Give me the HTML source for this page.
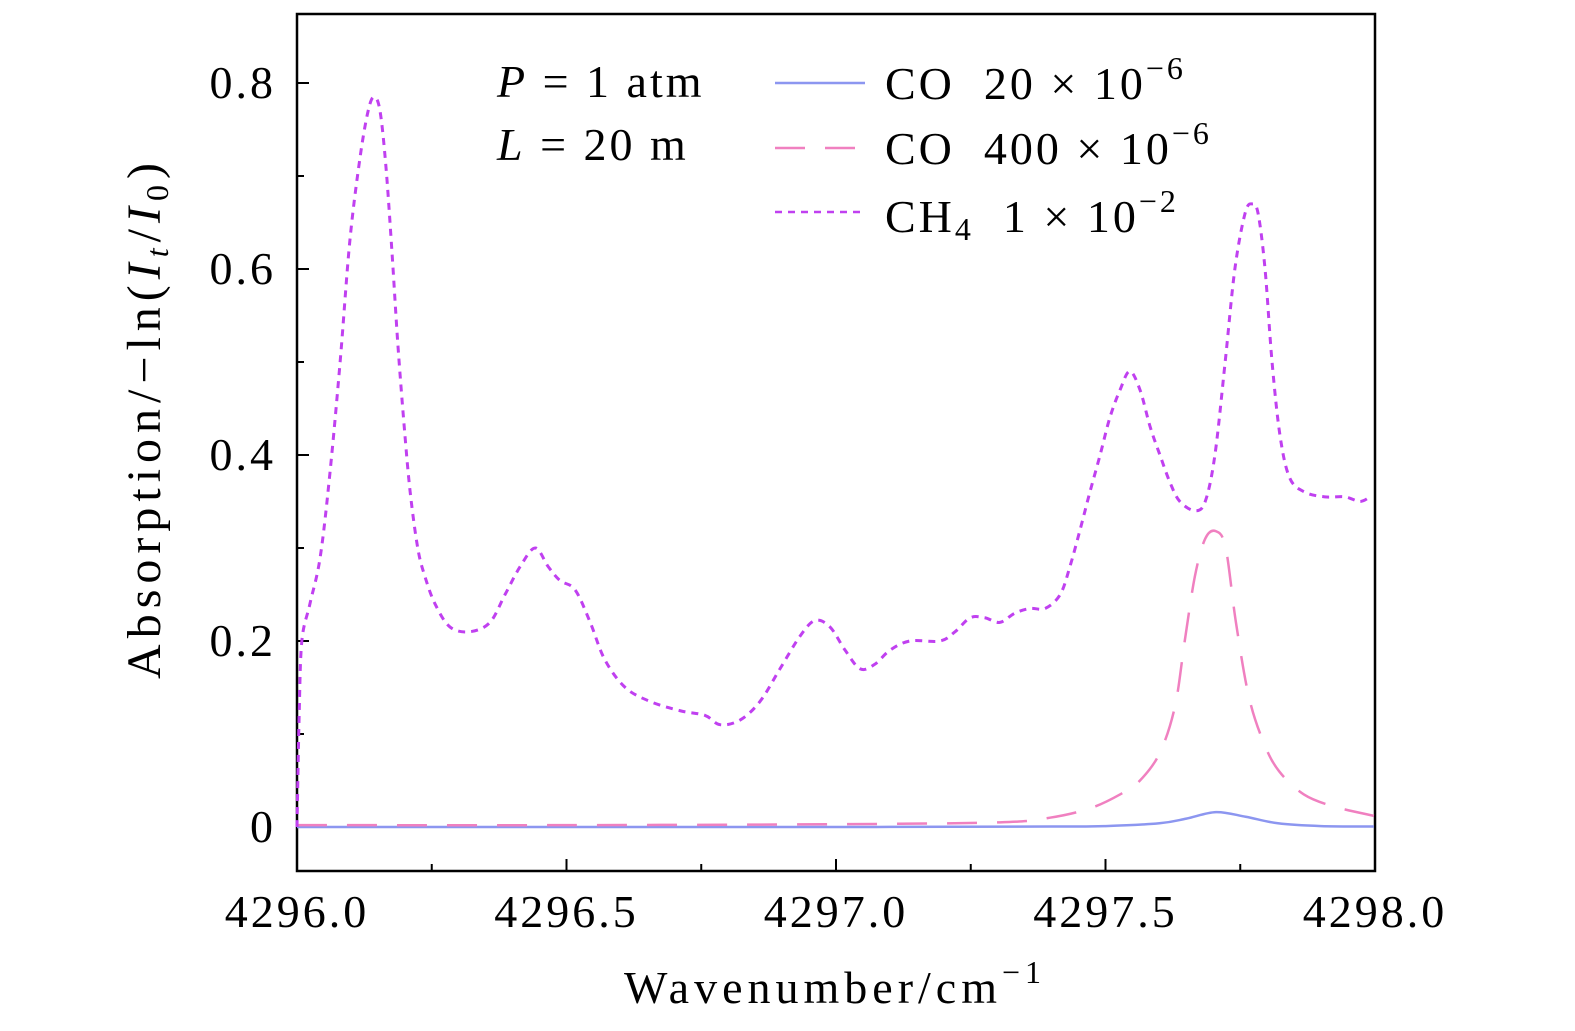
<!DOCTYPE html>
<html><head><meta charset="utf-8"><style>
html,body{margin:0;padding:0;background:#fff;overflow:hidden;width:1575px;height:1031px}
svg{display:block;position:absolute;left:0;top:0}
svg text{font-family:"Liberation Serif",serif;fill:#000}
</style></head><body>
<svg id="chart" width="1575" height="1031" viewBox="0 0 1575 1031">
<g id="plot"></g>
</svg>
<script>
const ch4X=[4296,4296.004,4296.009,4296.024,4296.043,4296.061,4296.080,4296.098,4296.117,4296.132,4296.143,4296.154,4296.165,4296.176,4296.187,4296.199,4296.210,4296.224,4296.237,4296.256,4296.284,4296.321,4296.358,4296.386,4296.414,4296.442,4296.466,4296.488,4296.516,4296.544,4296.571,4296.609,4296.655,4296.711,4296.757,4296.785,4296.822,4296.859,4296.896,4296.933,4296.961,4296.989,4297.017,4297.045,4297.072,4297.100,4297.137,4297.193,4297.221,4297.249,4297.276,4297.304,4297.332,4297.360,4297.388,4297.416,4297.434,4297.453,4297.471,4297.490,4297.508,4297.527,4297.545,4297.564,4297.583,4297.601,4297.620,4297.638,4297.666,4297.685,4297.703,4297.722,4297.740,4297.759,4297.772,4297.783,4297.796,4297.809,4297.824,4297.842,4297.870,4297.907,4297.944,4297.972,4297.991];
const ch4Y=[0,0.12,0.20,0.24,0.29,0.38,0.50,0.63,0.72,0.77,0.785,0.77,0.71,0.62,0.52,0.43,0.36,0.30,0.27,0.24,0.215,0.21,0.22,0.25,0.28,0.30,0.28,0.265,0.255,0.22,0.18,0.15,0.135,0.125,0.12,0.11,0.115,0.135,0.17,0.205,0.222,0.215,0.19,0.17,0.175,0.19,0.20,0.20,0.21,0.225,0.225,0.22,0.23,0.235,0.235,0.25,0.28,0.32,0.36,0.40,0.44,0.47,0.49,0.47,0.43,0.40,0.37,0.35,0.34,0.35,0.40,0.50,0.60,0.66,0.67,0.66,0.60,0.50,0.42,0.375,0.36,0.355,0.355,0.35,0.355];
const co400X=[4296,4296.5,4297,4297.304,4297.397,4297.471,4297.527,4297.564,4297.601,4297.629,4297.647,4297.666,4297.685,4297.705,4297.723,4297.742,4297.766,4297.794,4297.822,4297.868,4297.924,4297.998];
const co400Y=[0.002,0.002,0.003,0.005,0.01,0.02,0.035,0.05,0.08,0.13,0.20,0.27,0.31,0.318,0.30,0.22,0.14,0.09,0.06,0.035,0.022,0.012];
const co20X=[4296,4296.5,4297,4297.4,4297.5,4297.6,4297.65,4297.705,4297.76,4297.82,4297.9,4297.998];
const co20Y=[0,0,0,0.0005,0.001,0.004,0.009,0.016,0.011,0.004,0.001,0.0005];
const yTicks=[0,0.2,0.4,0.6,0.8];
const yTickLabels=["0","0.2","0.4","0.6","0.8"];
const xTicks=[4296.0,4296.5,4297.0,4297.5,4298.0];
const xTickLabels=["4296.0","4296.5","4297.0","4297.5","4298.0"];

const L=297,R=1375,T=14,B=871;
const xs=v=>L+(v-4296)*539;
const ys=v=>827-v*930;
const NS="http://www.w3.org/2000/svg";
const g=document.getElementById('plot');
function mk(t,a,p){const e=document.createElementNS(NS,t);for(const k in a)e.setAttribute(k,a[k]);(p||g).appendChild(e);return e;}
function smooth(X,Y){const P=X.map((x,i)=>[xs(x),ys(Y[i])]);let d=`M${P[0][0]},${P[0][1]}`;
for(let i=0;i<P.length-1;i++){const p0=P[i-1]||P[i],p1=P[i],p2=P[i+1],p3=P[i+2]||p2;
d+=` C${p1[0]+(p2[0]-p0[0])/6},${p1[1]+(p2[1]-p0[1])/6} ${p2[0]-(p3[0]-p1[0])/6},${p2[1]-(p3[1]-p1[1])/6} ${p2[0]},${p2[1]}`;}return d;}

let e;
e=mk('rect',{x:L,y:T,width:R-L,height:B-T,fill:'none',stroke:'#000','stroke-width':2.5});


for(let v=0;v<=0.85;v+=0.1){const y=ys(v);const major=Math.round(v*10)%2===0;
e=mk('line',{x1:L,x2:L+(major?12:7),y1:y,y2:y,stroke:'#000','stroke-width':2});

}
yTicks.forEach((v,i)=>{e=mk('text',{x:276,y:ys(v)+15,'text-anchor':'end','font-size':46,'letter-spacing':3});e.textContent=yTickLabels[i];

});
for(let v=4296;v<=4298.001;v+=0.25){const x=xs(v);const major=Math.round(v*4)%2===0;
e=mk('line',{x1:x,x2:x,y1:B,y2:B-(major?12:7),stroke:'#000','stroke-width':2});

}
xTicks.forEach((v,i)=>{e=mk('text',{x:xs(v),y:927,'text-anchor':'middle','font-size':46,'letter-spacing':3});e.textContent=xTickLabels[i];

});
e=mk('path',{d:smooth(co20X,co20Y),fill:'none',stroke:'#8c96f0','stroke-width':2.5});


e=mk('path',{d:smooth(co400X,co400Y),fill:'none',stroke:'#f080c0','stroke-width':2.5,'stroke-dasharray':'30,20'});


e=mk('path',{d:smooth(ch4X,ch4Y),fill:'none',stroke:'#c040f0','stroke-width':3,'stroke-dasharray':'7,6'});


</script>
<svg width="1575" height="1031">
<g font-family="Liberation Serif, serif" font-size="46" letter-spacing="3">
<text x="497" y="97"><tspan font-style="italic">P</tspan> = 1  atm</text>
<text x="497" y="160"><tspan font-style="italic">L</tspan> = 20  m</text>
<line x1="775" x2="865" y1="83" y2="83" stroke="#8c96f0" stroke-width="2.5"/>
<line x1="775" x2="865" y1="148" y2="148" stroke="#f080c0" stroke-width="2.5" stroke-dasharray="30,20"/>
<line x1="775" x2="865" y1="212" y2="212" stroke="#c040f0" stroke-width="2.5" stroke-dasharray="7,6"/>
<text x="885" y="99" xml:space="preserve">CO  20 × 10<tspan dy="-20" font-size="32">−6</tspan></text>
<text x="885" y="164" xml:space="preserve">CO  400 × 10<tspan dy="-20" font-size="32">−6</tspan></text>
<text x="885" y="232" xml:space="preserve">CH<tspan dy="8" font-size="32">4</tspan><tspan dy="-8">  1 × 10</tspan><tspan dy="-20" font-size="32">−2</tspan></text>
<text x="835" y="1003" text-anchor="middle" letter-spacing="5">Wavenumber/cm<tspan dy="-20" font-size="32">−1</tspan></text>
<text transform="translate(160,418) rotate(-90)" text-anchor="middle" font-size="48" letter-spacing="6">Absorption/−ln(<tspan font-style="italic">I</tspan><tspan font-size="32" dy="8" font-style="italic">t</tspan><tspan dy="-8">/</tspan><tspan font-style="italic">I</tspan><tspan font-size="32" dy="8">0</tspan><tspan dy="-8">)</tspan></text>
</g></svg>
</body></html>
